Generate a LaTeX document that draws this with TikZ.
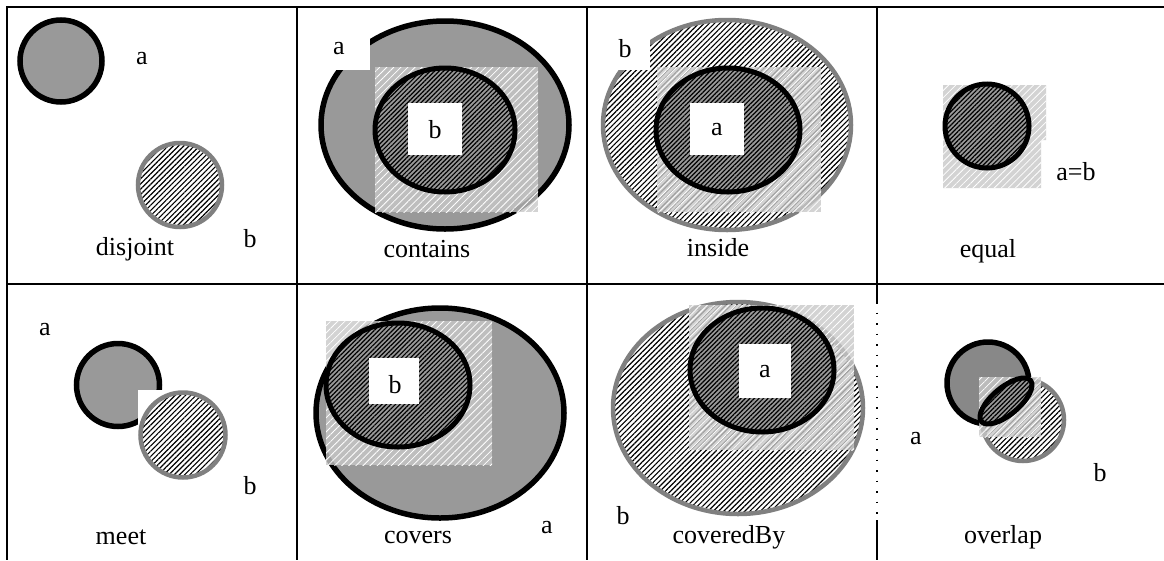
\documentclass[tikz,border=0pt]{standalone}
\usepackage{fontspec}
\setmainfont{Liberation Serif}
\usetikzlibrary{patterns.meta}
\definecolor{agray}{RGB}{153,153,153}
\definecolor{agraydk}{RGB}{136,136,136}
\definecolor{bgray}{RGB}{128,128,128}
\definecolor{lgray}{RGB}{200,200,200}
\begin{document}
\begin{tikzpicture}[x=1pt,y=-1pt,
  gridline/.style={line width=2pt,black},
  regA/.style={fill=agray,draw=black,line width=5.5pt},
  regB/.style={draw=bgray,line width=4.5pt,preaction={fill=white},
    pattern={Lines[angle=45,distance=3.7pt,line width=1.15pt]},pattern color=black},
  regD/.style={draw=black,line width=5pt,preaction={fill=agray},
    pattern={Lines[angle=45,distance=3.2pt,line width=1.2pt]},pattern color=black},
  sqr/.style={preaction={fill=lgray,fill opacity=0.8},
    pattern={Lines[angle=45,distance=5pt,line width=0.8pt]},pattern color=white},
  wbox/.style={fill=white},
  lbl/.style={inner sep=0pt,font=\fontsize{26}{31}\selectfont}]
\useasboundingbox (0,0) rectangle (1164,560);
\fill[white] (0,0) rectangle (1164,560);
% ---- disjoint
\draw[regA] (61,61) circle[radius=41];
\draw[regB] (180,185) circle[radius=42];
\node[lbl] (dja) at (142,59) {a};
\node[lbl] (djb) at (250,239) {b};
\node[lbl] (djt) at (135,249) {disjoint};
% ---- contains
\draw[regA] (445,125) ellipse[x radius=124,y radius=104];
\fill[wbox] (322,24) rectangle (370,70);
\fill[sqr] (375,67) rectangle (538,212);
\draw[regD] (445,130) ellipse[x radius=70,y radius=62];
\fill[wbox] (408,103) rectangle (462,155);
\node[lbl] (cta) at (339,49) {a};
\node[lbl] (ctb) at (435,130) {b};
\node[lbl] (ctt) at (427,249) {contains};
% ---- inside
\draw[regB] (727,125) ellipse[x radius=124,y radius=105];
\fill[wbox] (600,22) rectangle (650,70);
\fill[sqr] (657,67) rectangle (821,212);
\draw[regD] (728,130) ellipse[x radius=72,y radius=62];
\fill[wbox] (690,103) rectangle (744,155);
\node[lbl] (inb) at (625,49) {b};
\node[lbl] (ina) at (717,130) {a};
\node[lbl] (int) at (718,248) {inside};
% ---- equal
\fill[sqr] (943,85) -- (1046,85) -- (1046,140) -- (1041,140) -- (1041,188) -- (943,188) -- cycle;
\draw[regD] (987,126) circle[radius=42];
\node[lbl] (eqab) at (1076,172) {a=b};
\node[lbl] (eqt) at (988,251) {equal};
% ---- meet
\draw[regA] (118,385) circle[radius=41.5];
\fill[white] (138,390) rectangle (228,480);
\draw[regB] (183,435) circle[radius=42.5];
\node[lbl] (mta) at (45,330) {a};
\node[lbl] (mtb) at (250,486) {b};
\node[lbl] (mtt) at (121,537) {meet};
% ---- covers
\draw[regA] (440,413) ellipse[x radius=124,y radius=105];
\fill[sqr] (326,321) rectangle (492,465);
\draw[regD] (398,385) ellipse[x radius=72,y radius=62];
\fill[wbox] (369,358) rectangle (419,404);
\node[lbl] (cvb) at (395,385) {b};
\node[lbl] (cva) at (547,528) {a};
\node[lbl] (cvt) at (418,537) {covers};
% ---- coveredBy
\draw[regB] (738,408) ellipse[x radius=125,y radius=106];
\fill[sqr] (689,305) rectangle (854,450);
\draw[regD] (762,370) ellipse[x radius=72,y radius=62];
\fill[wbox] (739,344) rectangle (791,398);
\node[lbl] (cba) at (765,372) {a};
\node[lbl] (cbb) at (623,516) {b};
\node[lbl] (cbt) at (729,537) {coveredBy};
% ---- overlap
\draw[regA,fill=agraydk] (988,383) circle[radius=41];
\draw[regB] (1023,420) circle[radius=41];
\fill[sqr] (979,377) rectangle (1041,437);
\draw[regD,rotate around={40:(1006,401)}] (1006,401) ellipse[x radius=32,y radius=13.5];
\node[lbl] (ova) at (916,439) {a};
\node[lbl] (ovb) at (1100,473) {b};
\node[lbl] (ovt) at (1003,537) {overlap};
% ---- grid
\draw[gridline] (7,7) -- (1164,7);
\draw[gridline] (7,284) -- (1164,284);
\draw[gridline] (7,6) -- (7,560);
\draw[gridline] (297,6) -- (297,560);
\draw[gridline] (587,6) -- (587,560);
\draw[gridline] (877,6) -- (877,302);
\draw[line width=1.5pt,dash pattern=on 1.5pt off 9pt] (877,302) -- (877,520);
\draw[gridline] (877,520) -- (877,560);
\end{tikzpicture}
\end{document}
